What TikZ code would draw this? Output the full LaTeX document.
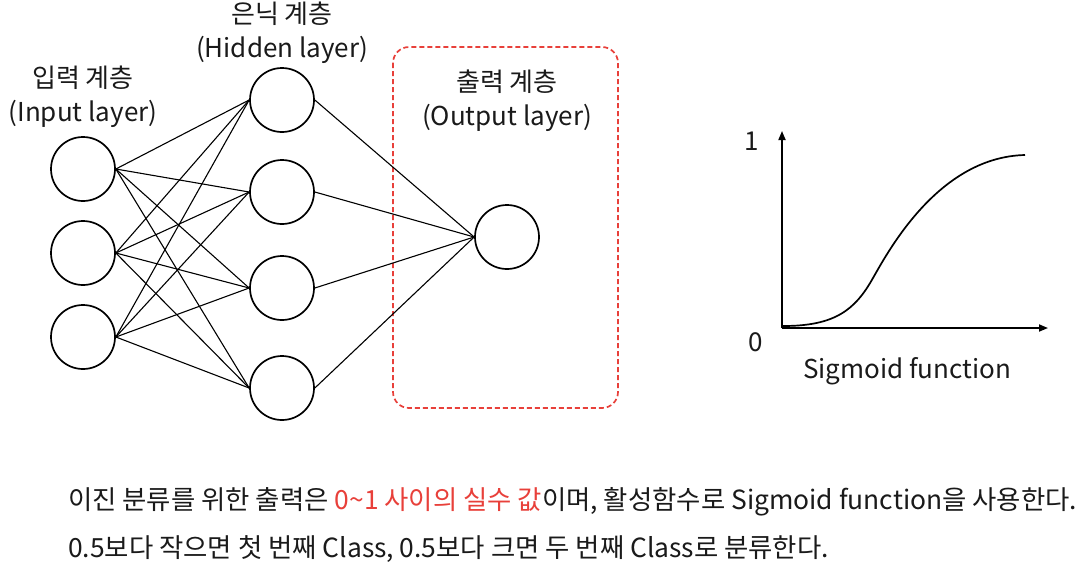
\documentclass[tikz,border=0pt]{standalone}
\usepackage{fontspec}
\setmainfont{Noto Sans CJK KR}
\usetikzlibrary{arrows.meta}
\definecolor{redc}{HTML}{E8403A}
\definecolor{txt}{HTML}{1A1A1A}
\tikzset{
  neuron/.style={circle, draw=black, line width=1.7pt, minimum size=64pt, inner sep=0pt},
  link/.style={line width=1.1pt, black},
  lbl/.style={font=\fontsize{26}{34}\selectfont, text=txt, inner sep=0pt, align=center},
  axis/.style={line width=1.7pt, -{Triangle[length=9pt,width=7pt]}},
  note/.style={font=\fontsize{26.4}{30}\selectfont, text=txt, inner sep=0pt, anchor=west}
}
\begin{document}
\begin{tikzpicture}[x=1pt,y=-1pt]
\useasboundingbox (0,0) rectangle (1092,566);
% output box
\draw[redc, line width=1.7pt, dash pattern=on 5pt off 3pt, rounded corners=16pt] (393,47) rectangle (618,408);
% neurons
\node[neuron] (i1) at (83,169) {};
\node[neuron] (i2) at (83,253) {};
\node[neuron] (i3) at (83,337) {};
\node[neuron] (h1) at (282,100) {};
\node[neuron] (h2) at (282,192) {};
\node[neuron] (h3) at (282,288) {};
\node[neuron] (h4) at (282,388) {};
\node[neuron] (o) at (507,237) {};
% links
\foreach \i in {i1,i2,i3}{
  \foreach \h in {h1,h2,h3,h4}{
    \draw[link] (\i.east) -- (\h.west);
  }
}
\foreach \h in {h1,h2,h3,h4}{
  \draw[link] (\h.east) -- (o.west);
}
% labels
\node[lbl] (li) at (83,97) {입력 계층\\(Input layer)};
\node[lbl] (lh) at (282,33) {은닉 계층\\(Hidden layer)};
\node[lbl] (lo) at (507,101) {출력 계층\\(Output layer)};
% sigmoid
\coordinate (org) at (782,328);
\coordinate (ytop) at (782,131);
\coordinate (xend) at (1048,328);
\draw[axis] (org) -- (ytop);
\draw[axis] (org) -- (xend);
\draw[line width=1.7pt] (783,326) .. controls (835,326) and (855,310) .. (873,278) .. controls (890,248) and (940,157) .. (1025,155);
\node[lbl] (one) at (752,141) {1};
\node[lbl] (zero) at (756,342) {0};
\node[lbl] (sig) at (907,371) {Sigmoid function};
% notes
\node[note] (n1) at (68,502) {이진 분류를 위한 출력은 \textcolor{redc}{0\char"007E 1 사이의 실수 값}이며, 활성함수로 Sigmoid function을 사용한다.};
\node[note] (n2) at (68,549) {0.5보다 작으면 첫 번째 Class, 0.5보다 크면 두 번째 Class로 분류한다.};
\end{tikzpicture}
\end{document}
